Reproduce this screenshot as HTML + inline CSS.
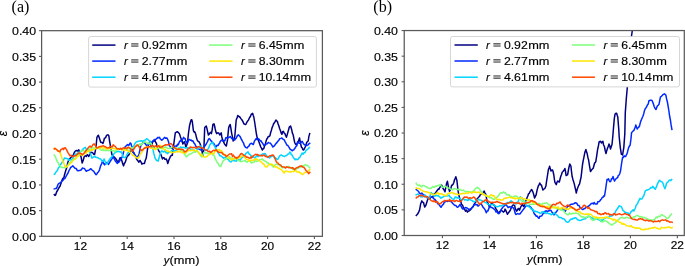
<!DOCTYPE html>
<html><head><meta charset="utf-8"><style>
html,body{margin:0;padding:0;background:#fff;width:685px;height:266px;overflow:hidden;}
svg{display:block;will-change:transform;}
text{font-family:"Liberation Sans",sans-serif;fill:#000;stroke:#000;stroke-width:0.15px;}
</style></head><body>
<svg width="685" height="266" viewBox="0 0 685 266">
<clipPath id="clipa"><rect x="41.61" y="30.68" width="280.79" height="205.65"/></clipPath>
<g clip-path="url(#clipa)" fill="none" stroke-width="1.5" stroke-linejoin="round" stroke-linecap="square">
<polyline stroke="#000080" points="54.3,194.6 54.9,195.4 55.5,195.3 56.6,192.0 57.8,190.0 58.9,187.8 60.0,186.3 61.1,183.1 62.3,179.5 63.0,178.2 63.8,178.0 64.5,175.0 65.3,172.0 66.0,169.8 66.8,167.5 67.5,163.8 68.3,161.0 69.2,159.1 70.0,158.5 70.9,157.6 71.8,156.5 72.7,155.9 73.6,154.3 74.3,152.5 75.1,151.3 75.8,150.7 76.6,150.5 77.7,151.0 78.8,149.8 79.6,152.8 80.3,154.6 81.1,157.0 82.2,163.0 83.3,160.0 84.1,157.0 84.8,156.1 85.6,155.8 86.3,156.5 87.1,154.7 87.8,154.8 88.6,156.5 89.3,155.6 90.1,154.0 90.8,152.2 91.6,152.4 92.3,152.5 93.1,153.2 93.8,154.5 94.6,154.3 95.3,150.8 96.1,146.0 96.9,137.5 97.7,135.9 98.4,135.3 99.5,138.4 100.6,142.0 101.4,142.5 102.1,142.4 102.9,143.5 103.7,141.2 104.4,138.3 105.5,137.9 106.6,135.3 107.4,134.9 108.1,134.8 108.9,136.0 109.4,140.0 110.4,145.9 111.2,150.4 111.9,154.6 112.7,155.4 113.5,157.2 114.3,157.1 115.3,158.2 116.3,159.5 117.2,161.0 118.2,162.5 119.2,160.0 120.2,157.6 121.2,159.1 122.1,161.5 122.8,164.0 123.6,165.9 124.3,163.5 125.1,162.5 126.0,160.1 127.0,156.6 128.0,155.6 129.0,154.6 129.8,153.1 130.7,150.8 131.5,149.3 132.3,150.0 133.0,152.5 133.8,152.7 134.9,155.2 136.0,157.2 136.8,159.5 137.7,160.5 138.3,161.4 138.9,162.2 140.0,160.5 141.1,162.2 141.9,164.1 142.8,163.4 143.7,163.6 144.5,163.4 145.3,160.3 146.2,158.3 146.8,154.2 147.5,149.3 148.4,144.8 149.2,143.3 150.1,141.4 150.7,143.0 151.3,147.0 152.1,143.9 152.8,141.0 153.9,141.2 155.0,140.5 155.8,142.5 156.5,143.6 157.5,148.1 158.3,149.6 159.1,151.5 159.9,152.3 160.8,154.3 161.7,156.8 162.5,158.9 163.3,157.7 164.2,157.7 164.8,159.2 165.4,159.4 166.3,159.0 167.1,161.1 167.8,163.6 168.6,160.8 169.3,159.0 170.1,157.2 170.8,156.0 171.6,155.2 172.3,155.3 173.1,149.4 173.8,144.0 174.6,138.0 175.3,132.8 176.4,132.1 177.6,131.8 178.5,132.8 179.4,133.6 180.4,136.8 181.4,139.5 182.2,141.2 182.9,144.0 183.7,142.4 184.4,141.8 185.2,144.2 185.9,147.0 186.7,145.2 187.4,143.3 188.5,133.0 189.6,125.3 190.3,122.7 191.1,120.0 191.7,119.7 192.3,121.5 193.4,130.6 194.2,132.2 194.9,132.0 195.7,134.2 196.4,137.3 197.2,140.1 197.9,141.1 199.1,141.9 200.2,144.0 200.9,146.5 201.7,150.0 202.3,152.9 202.9,156.0 203.9,148.5 204.7,127.6 205.4,126.7 206.2,126.0 206.8,127.9 207.4,130.6 208.4,135.0 209.2,134.3 209.9,132.8 210.7,132.3 211.4,133.6 212.2,129.6 212.9,124.5 214.0,123.8 214.6,126.0 215.2,129.0 215.9,131.9 216.7,133.6 217.4,133.0 218.2,132.8 218.9,133.2 219.7,135.0 220.4,134.1 221.2,132.8 221.8,136.9 222.4,138.8 223.4,141.4 224.5,144.0 225.4,145.1 226.3,146.0 226.9,142.8 227.5,140.0 228.1,133.4 228.7,127.6 229.4,125.7 230.2,124.5 230.9,128.4 231.7,133.6 232.4,136.6 233.2,141.1 233.9,139.2 234.7,137.3 235.4,129.5 236.2,120.0 237.0,118.0 237.8,115.5 238.8,116.5 239.8,117.0 240.9,118.6 242.0,120.0 242.9,121.5 243.8,123.8 244.8,124.2 245.8,124.5 246.6,122.8 247.3,121.5 248.4,120.1 249.5,117.8 250.4,116.5 251.4,114.0 252.0,114.3 252.6,113.3 253.2,115.3 253.8,117.0 254.8,123.0 255.9,130.6 256.5,134.5 257.1,137.3 257.9,138.8 258.6,141.0 259.7,144.0 260.8,147.0 261.6,148.4 262.3,150.0 263.1,148.8 263.8,148.5 264.6,145.7 265.3,144.0 266.1,141.1 266.8,139.0 267.6,138.0 268.3,136.4 269.1,136.6 269.9,135.7 270.6,132.8 271.4,130.3 272.1,127.6 272.9,125.7 273.6,123.8 274.8,122.2 275.9,120.0 276.6,120.7 277.4,121.5 278.1,124.0 278.9,126.0 279.6,128.5 280.4,130.6 281.1,132.8 281.9,134.3 282.6,131.7 283.4,131.3 284.1,133.0 284.9,133.6 285.6,135.5 286.4,137.3 287.1,135.0 287.9,132.1 288.6,129.7 289.4,126.8 290.0,126.5 290.6,126.0 291.7,129.8 292.4,133.1 293.2,135.0 293.9,138.6 294.7,142.5 295.4,143.9 296.2,144.8 297.3,143.2 298.4,141.8 299.5,138.0 300.1,141.0 300.7,144.0 301.4,147.1 302.2,147.8 302.9,149.8 303.7,150.0 304.4,148.6 305.2,147.0 305.9,145.2 306.7,142.5 307.4,141.6 308.2,141.0 308.9,136.4 309.7,133.6"/>
<polyline stroke="#0028ff" points="54.3,188.9 55.3,188.6 56.3,188.6 57.2,186.6 58.2,184.0 59.1,183.4 59.9,182.9 60.8,182.6 61.9,181.0 63.0,180.3 64.0,178.9 65.0,178.3 66.0,176.5 67.0,174.7 68.0,173.0 69.0,170.5 69.8,169.1 70.6,167.5 71.7,166.8 72.8,165.7 73.9,167.1 75.0,168.3 76.2,168.6 77.3,170.5 78.3,170.8 79.3,170.6 80.3,170.2 81.3,169.8 82.3,168.1 83.3,168.3 84.3,168.4 85.3,169.9 86.3,171.3 87.4,170.5 88.6,170.2 89.4,169.9 90.1,169.2 90.9,168.7 92.0,170.0 93.1,170.8 94.1,171.8 95.1,173.6 96.1,174.7 96.9,174.0 97.6,172.6 98.4,172.0 99.5,169.8 100.6,165.9 101.6,163.7 102.6,161.0 103.6,163.5 104.6,164.9 105.5,163.4 106.5,162.5 107.5,163.1 108.5,164.4 109.5,162.6 110.4,161.1 111.4,159.5 112.3,158.4 113.3,156.6 114.3,158.9 115.3,161.0 116.2,162.0 117.2,163.4 118.2,162.2 119.2,162.0 120.2,160.0 121.2,158.6 122.2,156.8 123.1,153.7 124.1,149.8 125.1,146.8 126.0,146.0 126.8,145.4 127.5,144.5 128.2,145.1 129.0,145.3 130.1,143.0 130.9,143.4 131.6,146.0 132.2,147.2 132.8,149.8 133.5,152.0 134.6,154.3 135.2,155.3 135.8,156.2 136.9,156.9 138.0,156.2 138.6,155.5 139.2,153.5 139.9,149.8 140.7,146.0 141.4,144.5 142.5,143.4 143.2,141.8 144.0,142.3 145.0,143.4 146.0,144.7 147.0,146.0 148.0,144.6 149.0,144.0 150.0,143.5 151.0,142.5 152.0,142.0 153.0,141.5 154.0,139.8 155.0,139.5 156.0,139.2 157.0,138.4 158.0,137.3 158.8,137.8 159.5,137.3 160.3,139.0 161.0,139.5 161.8,140.3 162.9,139.2 164.0,138.0 164.8,137.4 165.5,138.3 166.3,138.0 167.0,138.0 167.8,139.7 168.6,142.0 169.3,145.5 170.1,146.4 170.8,147.8 171.6,147.5 172.3,148.5 173.2,147.3 174.0,147.0 175.0,146.2 176.0,146.0 176.8,146.2 177.5,144.2 178.3,144.8 179.4,141.8 180.6,140.3 181.5,141.5 182.6,139.5 183.6,137.3 184.3,138.6 185.1,138.5 185.8,141.0 186.6,143.0 187.3,141.5 188.1,141.8 188.8,139.4 189.6,139.5 190.4,140.2 191.1,140.1 191.9,141.0 192.7,140.8 193.4,141.8 194.2,143.4 194.9,144.0 196.0,146.5 197.1,147.8 197.9,148.4 198.6,148.9 199.4,149.3 200.6,149.9 201.7,150.0 202.4,149.7 203.2,147.8 204.2,146.8 205.2,145.5 206.2,144.0 207.3,142.0 208.4,139.5 209.2,138.5 209.9,139.0 210.7,140.6 211.4,141.0 212.6,142.6 213.7,143.3 214.8,145.4 215.9,147.0 217.1,145.3 218.2,145.5 219.0,143.7 219.7,142.9 220.5,141.0 221.6,140.1 222.7,141.0 223.4,141.0 224.2,141.1 225.0,140.4 225.7,138.0 226.5,137.5 227.5,138.3 228.5,137.5 229.3,137.3 230.2,136.5 230.9,137.4 231.7,138.5 232.4,138.7 233.2,138.5 233.9,139.6 234.7,140.0 235.5,138.9 236.2,138.2 237.0,136.5 237.7,135.3 238.3,134.8 239.4,135.8 240.5,137.3 241.3,139.3 242.0,140.3 242.8,141.8 243.6,143.2 244.3,145.5 245.4,147.1 246.5,147.8 247.3,148.0 248.0,146.6 248.8,146.3 249.9,144.1 251.1,143.3 252.2,143.8 253.3,144.5 253.9,142.7 254.5,141.1 255.4,139.7 256.3,138.5 257.1,139.6 257.8,139.2 258.6,138.8 259.3,139.5 260.1,141.0 260.8,140.5 261.6,142.0 262.7,143.4 263.8,145.5 264.6,145.3 265.3,145.1 266.1,144.0 267.2,143.7 268.3,142.5 269.1,142.9 269.8,143.1 270.6,143.3 271.8,145.2 272.9,147.0 274.0,146.2 275.1,144.8 276.1,143.4 277.1,142.4 278.1,141.0 278.9,140.2 279.6,138.8 280.8,138.4 281.9,138.0 283.0,139.2 284.1,139.6 284.9,141.3 285.6,142.5 286.8,145.0 287.9,145.5 288.7,146.9 289.4,147.8 290.2,149.3 291.3,149.9 292.4,150.8 293.2,150.0 293.9,149.7 294.7,148.5 295.8,146.8 296.9,145.5 297.7,141.5 298.4,142.6 299.2,143.3 300.3,143.5 301.4,141.8 302.2,141.3 302.9,142.7 303.7,144.0 304.8,144.9 305.9,145.5 306.7,145.5 307.4,145.2 308.2,144.8 308.9,143.8 309.7,143.3"/>
<polyline stroke="#00d4ff" points="54.3,174.3 54.9,174.0 55.5,172.5 56.5,171.7 57.6,169.9 58.5,167.8 59.3,167.0 60.1,164.6 61.0,164.2 61.9,162.7 62.7,161.4 63.6,160.1 64.4,158.0 65.6,158.2 66.7,158.6 67.8,158.7 68.9,160.3 70.1,159.8 71.2,159.7 72.3,159.3 73.4,157.5 74.6,155.1 75.7,154.1 76.6,154.1 77.6,153.2 78.5,152.4 79.4,152.3 80.4,152.1 81.3,151.3 82.4,149.6 83.6,148.5 84.4,147.8 85.3,147.3 86.1,149.1 86.9,149.0 88.1,150.0 89.2,151.3 90.1,153.4 91.0,155.1 91.9,158.1 92.9,157.2 93.8,157.1 94.8,156.1 95.8,157.2 96.7,157.4 97.7,157.6 98.7,158.4 99.6,158.8 100.6,159.0 101.6,160.4 102.6,161.5 103.3,160.8 104.1,159.0 104.8,160.7 105.5,162.5 106.2,163.7 107.0,163.9 107.8,162.6 108.6,160.5 109.4,160.0 110.4,158.1 111.4,157.3 112.4,156.1 113.4,154.7 114.3,153.2 115.3,152.7 116.3,151.8 117.2,151.8 118.2,151.2 119.2,151.6 120.2,152.0 121.2,151.7 122.2,154.0 123.1,157.1 124.1,157.5 125.1,157.6 126.1,156.5 127.0,154.5 128.0,152.7 129.0,152.6 129.9,150.5 130.9,149.8 131.9,148.5 132.9,147.3 133.9,145.9 134.0,145.3 134.9,143.6 135.8,142.3 136.6,141.9 137.3,141.5 138.2,141.4 139.2,141.1 140.1,140.9 141.0,140.8 141.9,140.9 142.9,141.5 143.9,140.7 144.8,140.3 145.7,139.9 146.6,138.7 147.5,139.1 148.3,140.0 149.2,140.8 150.1,141.4 150.9,143.0 151.8,145.1 152.6,147.5 153.7,153.2 154.3,154.9 154.9,157.7 155.7,159.2 156.5,160.5 157.3,160.6 158.2,161.1 158.8,158.7 159.4,156.5 160.5,152.6 161.6,150.9 162.4,151.1 163.3,152.0 164.2,151.5 165.0,150.9 165.8,152.6 166.5,151.9 167.3,153.7 168.1,153.1 168.9,152.0 169.9,151.8 171.0,151.2 172.1,150.5 173.1,150.8 174.0,151.4 174.9,150.5 175.9,150.7 176.8,150.0 177.8,149.1 178.7,148.1 179.7,148.3 180.6,147.0 181.7,147.6 182.8,147.3 184.0,147.5 185.1,147.8 186.1,148.2 187.0,147.5 188.0,148.0 189.0,147.9 189.9,148.6 190.9,149.5 191.9,149.3 193.0,150.1 194.2,150.1 195.3,151.1 196.4,150.8 197.3,149.5 198.2,148.1 199.1,148.3 200.0,145.9 200.9,146.3 201.7,147.5 202.6,147.9 203.5,149.0 204.4,149.7 205.3,150.5 206.2,150.2 207.0,150.0 207.9,149.2 208.8,147.7 209.6,145.4 210.5,143.9 211.5,143.0 212.5,142.0 213.5,144.6 214.5,145.9 215.4,148.0 216.2,149.2 217.1,151.2 218.0,152.8 218.8,153.8 219.7,155.8 220.6,155.6 221.5,156.4 222.4,157.1 223.3,158.1 224.1,157.3 225.0,157.8 225.9,157.3 226.7,158.6 227.6,159.1 228.5,159.6 229.4,161.2 230.3,161.7 231.2,161.9 232.0,160.7 232.9,160.4 233.8,160.7 234.6,160.4 235.5,161.1 236.4,161.2 237.3,159.8 238.2,159.7 239.1,159.5 239.9,160.5 240.8,159.1 241.7,157.8 242.5,157.4 243.4,156.4 244.3,155.3 245.2,154.5 246.1,153.2 247.1,152.7 248.0,151.8 249.0,153.9 250.0,154.5 250.9,155.6 251.7,156.5 252.6,157.1 253.5,156.7 254.4,157.8 255.3,157.8 256.0,156.5 257.0,155.6 258.0,156.6 259.0,155.8 260.0,155.3 261.0,155.3 262.0,154.3 263.0,153.8 264.0,153.9 265.0,153.5 265.8,154.5 266.5,155.8 267.3,156.5 268.4,157.2 269.5,158.0 270.5,157.0 271.5,156.4 272.5,155.8 273.3,156.2 274.0,156.8 274.8,158.0 275.6,157.9 276.3,158.3 277.1,159.5 278.2,158.9 279.3,156.5 280.1,155.6 280.8,155.0 281.6,155.0 282.6,156.0 283.6,156.1 284.6,156.5 285.6,155.7 286.6,155.6 287.6,154.3 288.7,154.1 289.8,152.0 290.6,152.6 291.3,154.7 292.1,155.0 293.2,157.2 294.3,158.8 295.1,159.6 295.8,159.0 296.6,159.5 297.8,159.6 298.9,158.0 300.0,157.1 301.1,155.0 302.1,153.0 303.1,154.2 304.1,152.8 305.1,152.5 306.1,150.1 307.1,149.8 308.2,148.8 309.4,147.5"/>
<polyline stroke="#7dff7a" points="54.2,155.0 54.9,156.1 55.5,156.5 55.9,158.0 56.8,160.7 57.6,162.0 58.5,163.3 59.3,165.4 60.1,165.8 61.0,167.0 62.1,167.5 63.3,167.6 64.4,167.9 65.5,166.5 66.7,166.2 67.8,165.4 68.9,163.4 70.0,162.5 71.2,161.0 72.3,160.3 73.4,159.7 74.5,159.2 75.6,158.3 76.7,156.5 77.8,154.9 78.8,153.6 79.9,152.5 81.0,151.0 82.0,150.5 83.0,150.8 84.0,150.8 85.1,151.4 86.1,150.4 87.1,150.3 88.1,150.4 89.1,149.0 90.1,149.6 91.1,148.9 92.1,148.1 93.1,148.0 94.1,147.9 95.1,148.2 96.1,147.5 97.1,148.1 98.1,148.2 99.1,147.3 100.1,149.1 101.1,150.1 102.1,150.3 103.1,149.7 104.1,150.5 105.2,150.0 106.2,150.8 107.2,150.4 108.2,150.3 109.2,150.5 110.2,150.8 111.2,150.4 112.2,150.8 113.2,150.5 114.2,151.0 115.2,151.7 116.2,150.1 117.2,149.9 118.2,148.7 119.2,148.5 120.2,148.8 121.2,148.5 122.1,149.4 123.1,149.5 124.1,149.4 125.0,149.1 126.0,149.5 127.0,150.2 128.1,148.5 129.1,148.3 130.1,148.8 131.2,147.8 132.2,148.0 133.2,147.6 134.2,147.5 135.2,146.5 136.2,146.2 137.2,145.5 138.2,145.0 139.1,144.8 139.9,143.7 140.8,145.3 141.9,143.6 143.0,143.0 143.8,142.6 144.5,141.5 145.3,141.9 146.4,142.5 147.5,143.6 148.3,143.5 149.0,143.9 149.8,143.0 150.9,143.5 152.0,145.3 152.8,145.8 153.5,146.9 154.3,147.5 155.4,148.4 156.5,148.7 157.3,147.6 158.0,148.8 158.8,147.5 159.9,147.7 161.1,148.7 162.2,148.7 163.3,147.5 164.4,147.2 165.6,147.0 166.7,147.6 167.8,148.6 168.9,148.5 170.0,148.5 171.0,147.7 172.0,146.7 172.8,146.8 173.5,147.5 174.3,148.4 175.4,147.5 176.5,148.0 177.3,149.5 178.0,148.3 178.8,149.5 179.9,148.4 181.0,150.7 182.1,150.1 182.9,152.0 183.6,152.5 184.4,154.0 185.5,155.7 186.1,156.7 186.7,156.9 187.5,155.7 188.3,155.2 189.2,154.3 190.0,154.0 190.8,153.9 191.5,153.5 192.3,152.9 193.4,152.1 194.5,151.8 195.3,152.3 196.0,151.4 196.8,150.7 197.7,151.9 198.5,152.9 199.3,153.5 200.2,155.2 201.1,156.1 202.0,156.9 202.9,154.6 203.9,152.5 204.9,152.7 205.9,153.3 206.9,152.8 207.9,153.2 208.9,153.2 209.9,153.3 210.8,152.9 211.8,152.5 212.5,154.7 213.2,154.5 214.1,155.6 215.1,158.4 216.1,160.4 217.1,162.4 218.0,163.1 218.8,165.0 219.7,166.3 220.7,166.6 221.7,164.3 222.7,161.6 223.7,160.4 224.6,159.6 225.4,159.4 226.3,158.4 227.2,158.0 228.0,158.0 228.9,157.1 229.9,156.8 230.9,158.6 231.9,158.1 232.9,159.1 233.8,158.3 234.6,158.9 235.5,158.4 236.4,159.3 237.3,159.4 238.2,160.4 239.1,160.4 239.9,161.2 240.8,161.7 241.7,161.5 242.5,161.2 243.4,161.1 244.3,160.8 245.2,160.4 246.1,161.7 247.0,162.2 247.8,161.4 248.7,161.1 249.6,161.1 250.4,161.6 251.3,163.0 252.2,162.5 253.0,162.4 253.9,162.4 254.9,160.7 256.0,161.0 257.0,161.5 258.0,160.8 259.0,160.3 260.0,159.7 261.0,159.5 262.0,158.8 263.0,159.7 264.0,160.8 265.0,161.0 266.0,161.6 267.0,162.7 268.0,162.6 269.0,164.1 270.0,163.9 271.0,164.8 271.8,165.4 272.5,165.9 273.3,167.1 274.3,166.0 275.3,164.7 276.3,164.1 277.1,164.3 277.8,164.7 278.6,164.8 279.6,165.8 280.6,165.8 281.6,167.1 282.6,167.9 283.6,167.4 284.6,167.8 285.6,167.5 286.6,167.1 287.6,167.1 288.6,166.3 289.6,167.7 290.6,167.8 291.6,167.4 292.6,169.4 293.6,169.3 294.6,169.1 295.6,169.6 296.6,168.6 297.6,168.4 298.6,168.0 299.6,167.1 300.6,167.3 301.6,166.1 302.6,165.6 303.6,166.1 304.6,165.0 305.6,164.8 306.6,165.4 307.6,165.5 308.6,166.3 309.2,167.3 309.8,167.8"/>
<polyline stroke="#ffe600" points="54.2,148.3 55.4,149.2 56.5,149.6 57.6,150.6 58.8,151.3 59.6,152.1 60.5,153.5 61.6,156.9 62.7,160.9 63.6,162.7 64.4,164.8 65.2,166.3 66.1,167.0 66.9,166.9 67.8,165.9 68.9,164.5 70.0,163.7 71.2,162.7 72.3,161.4 73.4,159.6 74.5,159.2 75.5,158.8 76.4,157.5 77.4,156.3 78.3,156.0 79.3,155.6 80.2,154.7 81.3,154.6 82.5,155.5 83.6,154.1 84.5,154.1 85.3,152.0 86.2,153.2 87.1,151.0 88.2,151.6 89.3,151.4 90.5,149.7 91.6,150.3 92.7,149.8 93.9,149.2 95.0,149.0 96.0,148.2 97.0,148.2 98.1,148.5 99.1,147.3 100.2,147.5 101.3,147.7 102.5,147.9 103.6,148.0 104.5,147.5 105.4,148.3 106.4,149.1 107.3,149.0 108.2,148.8 109.3,148.4 110.5,148.8 111.6,148.6 112.7,148.0 113.8,148.4 115.0,148.8 116.1,149.4 117.2,148.8 118.2,149.1 119.2,149.2 120.2,148.7 121.2,149.0 122.2,149.7 123.2,149.5 124.2,150.7 125.2,149.7 126.2,150.1 127.2,150.2 128.2,151.2 129.2,151.0 130.3,152.9 131.4,153.6 132.6,155.2 133.7,155.6 134.7,156.2 135.7,157.1 136.7,157.8 137.5,157.9 138.2,158.3 139.0,157.0 140.1,154.5 141.2,152.6 142.2,151.7 143.2,149.6 144.2,148.0 145.3,147.2 146.4,147.5 147.6,146.3 148.7,147.0 149.8,147.6 150.9,148.1 152.1,148.3 153.2,148.7 154.3,148.6 155.4,149.8 156.6,147.6 157.7,146.4 158.8,145.7 159.9,145.3 160.8,145.7 161.6,147.5 162.4,148.4 163.3,148.7 164.4,149.3 165.6,149.8 166.7,151.4 167.8,150.9 168.9,151.4 170.1,152.0 171.2,152.6 172.3,152.6 173.4,152.5 174.6,152.3 175.7,152.1 176.8,151.4 178.0,152.0 179.1,151.5 180.2,151.0 181.3,152.6 182.5,152.4 183.6,153.0 184.7,151.9 185.8,153.3 187.0,151.4 188.1,150.8 189.2,150.3 190.3,150.8 191.5,150.3 192.6,150.0 193.7,150.5 194.8,150.6 196.0,150.8 197.1,150.8 198.1,151.8 199.0,152.9 200.0,154.5 200.9,154.2 201.7,155.3 202.6,155.8 203.5,157.0 204.4,157.0 205.3,157.1 206.2,156.7 207.0,156.6 207.9,155.1 208.8,155.1 209.6,153.9 210.5,153.8 211.4,153.3 212.3,153.9 213.2,153.2 214.1,153.7 214.9,151.1 215.8,151.2 216.7,150.7 217.5,149.8 218.4,149.9 219.3,149.5 220.1,150.8 221.0,150.5 222.0,151.4 223.0,153.2 224.0,154.6 225.0,154.5 225.9,155.0 226.7,156.8 227.6,157.1 228.5,157.2 229.4,158.4 230.3,159.1 231.2,159.9 232.0,158.6 232.9,159.7 233.8,159.2 234.6,157.7 235.5,157.8 236.4,157.6 237.3,158.5 238.2,158.4 239.1,157.0 239.9,157.8 240.8,157.1 241.7,156.4 242.5,155.5 243.4,155.1 244.4,156.8 245.4,158.4 246.4,159.2 247.4,159.7 248.3,159.6 249.1,161.1 250.0,160.4 250.9,160.3 251.7,160.3 252.6,160.4 253.5,160.2 254.4,159.2 255.3,159.7 256.0,158.8 257.0,159.2 258.0,159.8 259.0,160.3 260.0,161.3 261.0,161.9 262.0,162.6 262.8,163.7 263.5,163.7 264.3,164.8 265.4,166.8 266.5,167.1 267.3,166.7 268.0,165.1 268.8,164.8 269.9,164.5 271.0,164.1 272.0,164.3 273.0,165.3 274.0,165.6 275.0,167.0 276.1,166.8 277.1,167.1 278.1,168.2 279.1,168.3 280.1,169.3 281.1,169.2 282.1,170.4 283.1,171.6 284.1,173.1 285.1,171.3 286.1,170.8 287.1,171.4 288.1,171.7 289.1,171.6 290.1,171.9 291.1,171.7 292.1,171.6 293.1,171.5 294.1,171.4 295.1,170.8 296.1,170.6 297.1,172.0 298.1,172.3 299.1,171.7 300.1,172.9 301.1,173.1 301.9,174.2 302.6,174.6 303.6,173.7 304.6,172.6 305.6,172.3 306.6,172.3 307.6,171.3 308.6,170.8 309.2,170.2 309.8,169.3"/>
<polyline stroke="#ff4700" points="54.2,149.0 55.0,148.2 55.9,149.0 56.8,149.6 57.6,150.7 58.8,151.2 59.9,151.8 61.0,149.4 62.1,149.0 62.9,148.3 63.6,149.5 64.4,147.9 65.2,147.7 66.1,149.0 66.9,150.4 67.8,152.4 68.9,154.1 70.0,155.8 71.2,155.2 72.3,156.9 73.4,156.3 74.5,155.8 75.7,155.7 76.8,154.7 77.7,154.0 78.7,152.9 79.6,153.0 80.5,153.6 81.5,153.7 82.4,154.7 83.6,153.6 84.7,152.4 85.8,151.0 86.9,149.6 88.1,148.1 89.2,146.8 90.1,146.1 91.1,147.1 92.0,146.2 93.1,144.5 94.2,143.8 94.8,144.8 95.4,145.6 96.2,147.1 96.9,148.0 97.9,147.6 98.9,146.9 99.9,146.5 100.8,146.6 101.8,146.3 102.7,146.1 103.6,145.8 104.5,146.5 105.5,146.7 106.5,147.6 107.4,148.0 108.4,147.8 109.3,147.8 110.2,146.5 111.2,146.5 112.2,146.9 113.2,144.8 114.2,145.8 115.2,146.3 116.2,147.8 117.2,148.8 118.3,148.7 119.5,149.4 120.6,148.2 121.7,149.5 122.7,148.3 123.7,147.7 124.7,148.0 125.3,148.1 126.0,148.3 126.8,148.6 127.5,147.5 128.4,147.1 129.4,147.9 130.2,148.3 130.9,149.4 132.0,151.3 133.1,150.9 133.7,149.0 134.3,148.3 135.4,146.4 136.2,146.0 136.9,144.9 138.0,145.3 138.6,146.3 139.2,146.8 140.3,149.0 141.4,150.5 142.5,149.8 143.2,149.5 144.0,148.6 145.0,147.8 146.0,147.9 146.9,147.4 147.8,146.9 148.7,147.0 149.8,146.4 150.9,146.4 151.8,145.7 152.6,145.3 153.4,146.4 154.3,147.0 155.4,145.8 156.5,146.4 157.3,146.9 158.0,146.1 158.8,145.8 159.9,147.4 161.1,147.0 162.2,147.1 163.3,145.8 164.4,145.4 165.6,144.7 166.7,144.9 167.8,144.7 168.9,144.7 170.1,143.6 171.2,143.7 172.3,144.7 173.0,146.6 173.7,147.3 174.6,147.9 175.4,148.4 176.5,149.1 177.6,149.5 178.4,149.0 179.3,149.0 180.2,149.3 181.0,149.5 181.8,149.1 182.7,149.5 183.6,150.2 184.4,151.8 185.2,151.7 186.1,151.2 186.9,150.6 187.8,149.0 188.7,148.6 189.5,147.8 190.3,146.9 191.2,147.3 192.1,147.5 192.9,147.8 193.7,147.3 194.5,147.3 195.3,147.8 196.2,148.4 197.1,147.2 197.9,146.7 199.1,146.7 200.2,147.3 201.1,147.7 202.0,147.8 202.6,147.9 203.5,148.4 204.4,149.3 205.3,149.9 206.2,150.1 207.0,150.3 207.9,151.2 208.8,151.5 209.6,151.3 210.5,152.5 211.4,152.0 212.3,151.2 213.2,150.5 214.1,150.3 214.9,150.6 215.8,149.9 216.7,150.0 217.5,151.8 218.4,151.8 219.3,152.5 220.1,152.4 221.0,152.5 221.9,152.7 222.8,154.0 223.7,154.5 224.6,154.9 225.4,155.4 226.3,156.4 227.2,155.9 228.0,155.3 228.9,154.5 229.8,153.9 230.7,154.0 231.6,153.8 232.5,156.5 233.3,155.1 234.2,156.4 235.1,157.4 235.9,157.6 236.8,158.4 237.7,157.2 238.6,156.9 239.5,155.8 240.4,154.4 241.2,153.6 242.1,153.8 243.0,154.5 243.8,155.3 244.7,155.8 245.6,156.1 246.5,157.3 247.4,157.1 248.3,157.4 249.1,158.1 250.0,158.4 250.9,157.0 251.7,157.9 252.6,156.4 253.5,155.6 254.4,155.1 255.3,154.5 256.0,154.3 256.8,154.8 257.5,154.5 258.3,155.0 259.4,155.6 260.5,155.8 261.5,155.6 262.5,155.9 263.5,155.0 264.3,155.0 265.0,156.0 265.8,156.5 266.9,156.9 268.0,157.3 268.8,156.5 269.5,155.8 270.3,155.8 271.4,155.6 272.5,155.0 273.3,155.2 274.0,156.4 274.8,158.0 275.6,159.9 276.3,161.8 277.1,162.6 277.8,162.9 278.6,164.1 279.6,164.6 280.6,165.0 281.6,166.3 282.6,166.9 283.6,167.0 284.6,167.1 285.6,168.0 286.6,166.8 287.6,167.1 288.6,167.7 289.6,167.4 290.6,167.8 291.6,168.0 292.6,167.6 293.6,168.6 294.6,169.7 295.6,168.4 296.6,167.8 297.6,167.6 298.6,166.9 299.6,166.3 300.6,166.0 301.6,166.1 302.6,167.1 303.8,167.2 304.9,168.6 306.0,170.4 307.1,171.6 307.9,172.3 308.6,173.8 309.2,173.0 309.8,172.3"/>
</g>
<rect x="41.61" y="30.68" width="280.79" height="205.65" fill="none" stroke="#5a5a5a" stroke-width="1.25"/>
<line x1="39.01" y1="236.33" x2="41.61" y2="236.33" stroke="#5a5a5a" stroke-width="1.1"/>
<text x="36.10" y="240.73" font-size="10.5" text-anchor="end" textLength="24.07" lengthAdjust="spacingAndGlyphs">0.00</text>
<line x1="39.01" y1="210.62" x2="41.61" y2="210.62" stroke="#5a5a5a" stroke-width="1.1"/>
<text x="36.10" y="215.02" font-size="10.5" text-anchor="end" textLength="24.07" lengthAdjust="spacingAndGlyphs">0.05</text>
<line x1="39.01" y1="184.92" x2="41.61" y2="184.92" stroke="#5a5a5a" stroke-width="1.1"/>
<text x="36.10" y="189.32" font-size="10.5" text-anchor="end" textLength="24.07" lengthAdjust="spacingAndGlyphs">0.10</text>
<line x1="39.01" y1="159.21" x2="41.61" y2="159.21" stroke="#5a5a5a" stroke-width="1.1"/>
<text x="36.10" y="163.61" font-size="10.5" text-anchor="end" textLength="24.07" lengthAdjust="spacingAndGlyphs">0.15</text>
<line x1="39.01" y1="133.50" x2="41.61" y2="133.50" stroke="#5a5a5a" stroke-width="1.1"/>
<text x="36.10" y="137.91" font-size="10.5" text-anchor="end" textLength="24.07" lengthAdjust="spacingAndGlyphs">0.20</text>
<line x1="39.01" y1="107.80" x2="41.61" y2="107.80" stroke="#5a5a5a" stroke-width="1.1"/>
<text x="36.10" y="112.20" font-size="10.5" text-anchor="end" textLength="24.07" lengthAdjust="spacingAndGlyphs">0.25</text>
<line x1="39.01" y1="82.09" x2="41.61" y2="82.09" stroke="#5a5a5a" stroke-width="1.1"/>
<text x="36.10" y="86.49" font-size="10.5" text-anchor="end" textLength="24.07" lengthAdjust="spacingAndGlyphs">0.30</text>
<line x1="39.01" y1="56.39" x2="41.61" y2="56.39" stroke="#5a5a5a" stroke-width="1.1"/>
<text x="36.10" y="60.79" font-size="10.5" text-anchor="end" textLength="24.07" lengthAdjust="spacingAndGlyphs">0.35</text>
<line x1="39.01" y1="30.68" x2="41.61" y2="30.68" stroke="#5a5a5a" stroke-width="1.1"/>
<text x="36.10" y="35.08" font-size="10.5" text-anchor="end" textLength="24.07" lengthAdjust="spacingAndGlyphs">0.40</text>
<line x1="80.40" y1="236.33" x2="80.40" y2="239.03" stroke="#5a5a5a" stroke-width="1.1"/>
<text x="80.40" y="249.70" font-size="10.5" text-anchor="middle" textLength="13.26" lengthAdjust="spacingAndGlyphs">12</text>
<line x1="127.20" y1="236.33" x2="127.20" y2="239.03" stroke="#5a5a5a" stroke-width="1.1"/>
<text x="127.20" y="249.70" font-size="10.5" text-anchor="middle" textLength="13.26" lengthAdjust="spacingAndGlyphs">14</text>
<line x1="174.00" y1="236.33" x2="174.00" y2="239.03" stroke="#5a5a5a" stroke-width="1.1"/>
<text x="174.00" y="249.70" font-size="10.5" text-anchor="middle" textLength="13.26" lengthAdjust="spacingAndGlyphs">16</text>
<line x1="220.80" y1="236.33" x2="220.80" y2="239.03" stroke="#5a5a5a" stroke-width="1.1"/>
<text x="220.80" y="249.70" font-size="10.5" text-anchor="middle" textLength="13.26" lengthAdjust="spacingAndGlyphs">18</text>
<line x1="267.60" y1="236.33" x2="267.60" y2="239.03" stroke="#5a5a5a" stroke-width="1.1"/>
<text x="267.60" y="249.70" font-size="10.5" text-anchor="middle" textLength="13.26" lengthAdjust="spacingAndGlyphs">20</text>
<line x1="314.40" y1="236.33" x2="314.40" y2="239.03" stroke="#5a5a5a" stroke-width="1.1"/>
<text x="314.40" y="249.70" font-size="10.5" text-anchor="middle" textLength="13.26" lengthAdjust="spacingAndGlyphs">22</text>
<text x="163.80" y="263.60" font-size="11.2" font-style="italic">y</text>
<text x="169.60" y="263.60" font-size="11.2" textLength="29.9" lengthAdjust="spacingAndGlyphs">(mm)</text>
<text transform="translate(6.70,133.50) rotate(-90)" font-size="12" font-style="italic" text-anchor="middle">&#949;</text>
<text x="11.60" y="11.70" font-size="16" style="font-family:'Liberation Serif',serif;stroke:none">(a)</text>
<rect x="88.6" y="36.5" width="227.80" height="50.60" rx="2" ry="2" fill="#fff" stroke="#cccccc" stroke-opacity="0.8" stroke-width="1"/>
<line x1="92.2" y1="45.1" x2="115.5" y2="45.1" stroke="#000080" stroke-width="1.5"/>
<text x="123.90" y="48.90" font-size="11.5" font-style="italic">r</text>
<path d="M131.20 45.00H138.40" stroke="#a8a8a8" stroke-width="1.3" fill="none"/>
<path d="M131.20 43.80H138.40M131.20 46.20H138.40" stroke="#444" stroke-width="1.0" fill="none"/>
<text x="141.70" y="48.90" font-size="10.9" textLength="23.82" lengthAdjust="spacingAndGlyphs">0.92</text>
<text x="166.02" y="48.90" font-size="11.4" textLength="21.3" lengthAdjust="spacingAndGlyphs">mm</text>
<line x1="92.2" y1="61.1" x2="115.5" y2="61.1" stroke="#0028ff" stroke-width="1.5"/>
<text x="123.90" y="64.90" font-size="11.5" font-style="italic">r</text>
<path d="M131.20 61.00H138.40" stroke="#a8a8a8" stroke-width="1.3" fill="none"/>
<path d="M131.20 59.80H138.40M131.20 62.20H138.40" stroke="#444" stroke-width="1.0" fill="none"/>
<text x="141.70" y="64.90" font-size="10.9" textLength="23.82" lengthAdjust="spacingAndGlyphs">2.77</text>
<text x="166.02" y="64.90" font-size="11.4" textLength="21.3" lengthAdjust="spacingAndGlyphs">mm</text>
<line x1="92.2" y1="77.2" x2="115.5" y2="77.2" stroke="#00d4ff" stroke-width="1.5"/>
<text x="123.90" y="81.00" font-size="11.5" font-style="italic">r</text>
<path d="M131.20 77.10H138.40" stroke="#a8a8a8" stroke-width="1.3" fill="none"/>
<path d="M131.20 75.90H138.40M131.20 78.30H138.40" stroke="#444" stroke-width="1.0" fill="none"/>
<text x="141.70" y="81.00" font-size="10.9" textLength="23.82" lengthAdjust="spacingAndGlyphs">4.61</text>
<text x="166.02" y="81.00" font-size="11.4" textLength="21.3" lengthAdjust="spacingAndGlyphs">mm</text>
<line x1="209.2" y1="45.1" x2="232.5" y2="45.1" stroke="#7dff7a" stroke-width="1.5"/>
<text x="241.00" y="48.90" font-size="11.5" font-style="italic">r</text>
<path d="M248.30 45.00H255.50" stroke="#a8a8a8" stroke-width="1.3" fill="none"/>
<path d="M248.30 43.80H255.50M248.30 46.20H255.50" stroke="#444" stroke-width="1.0" fill="none"/>
<text x="258.80" y="48.90" font-size="10.9" textLength="23.82" lengthAdjust="spacingAndGlyphs">6.45</text>
<text x="283.12" y="48.90" font-size="11.4" textLength="21.3" lengthAdjust="spacingAndGlyphs">mm</text>
<line x1="209.2" y1="61.1" x2="232.5" y2="61.1" stroke="#ffe600" stroke-width="1.5"/>
<text x="241.00" y="64.90" font-size="11.5" font-style="italic">r</text>
<path d="M248.30 61.00H255.50" stroke="#a8a8a8" stroke-width="1.3" fill="none"/>
<path d="M248.30 59.80H255.50M248.30 62.20H255.50" stroke="#444" stroke-width="1.0" fill="none"/>
<text x="258.80" y="64.90" font-size="10.9" textLength="23.82" lengthAdjust="spacingAndGlyphs">8.30</text>
<text x="283.12" y="64.90" font-size="11.4" textLength="21.3" lengthAdjust="spacingAndGlyphs">mm</text>
<line x1="209.2" y1="77.2" x2="232.5" y2="77.2" stroke="#ff4700" stroke-width="1.5"/>
<text x="241.00" y="81.00" font-size="11.5" font-style="italic">r</text>
<path d="M248.30 77.10H255.50" stroke="#a8a8a8" stroke-width="1.3" fill="none"/>
<path d="M248.30 75.90H255.50M248.30 78.30H255.50" stroke="#444" stroke-width="1.0" fill="none"/>
<text x="258.80" y="81.00" font-size="10.9" textLength="30.50" lengthAdjust="spacingAndGlyphs">10.14</text>
<text x="289.80" y="81.00" font-size="11.4" textLength="21.3" lengthAdjust="spacingAndGlyphs">mm</text>
<clipPath id="clipb"><rect x="404.23" y="30.55" width="280.07" height="204.95"/></clipPath>
<g clip-path="url(#clipb)" fill="none" stroke-width="1.5" stroke-linejoin="round" stroke-linecap="square">
<polyline stroke="#000080" points="416.3,215.5 417.4,214.3 418.5,212.5 419.6,209.9 420.7,203.7 421.8,200.9 422.6,202.1 423.5,202.5 424.1,204.9 424.7,207.1 425.8,205.4 426.9,202.0 427.6,199.7 428.3,199.0 429.3,198.4 430.3,198.0 431.2,196.9 432.2,197.1 433.1,196.3 434.0,194.3 434.8,193.5 435.6,192.9 436.5,191.3 437.4,190.4 438.2,189.0 439.0,189.3 439.9,187.3 440.8,186.5 441.6,185.1 442.7,187.8 443.8,189.6 444.4,190.6 445.0,191.8 445.8,187.3 446.6,183.4 447.4,181.2 448.5,187.5 449.5,191.3 450.6,189.2 451.6,185.5 452.4,185.0 453.1,184.3 453.9,182.2 454.6,179.5 455.2,178.3 455.8,176.8 456.9,180.5 457.9,189.5 458.5,193.3 459.1,196.3 460.0,200.0 460.8,201.3 461.5,204.5 462.5,205.1 463.5,207.9 464.5,209.1 465.5,211.3 466.5,210.1 467.5,212.1 468.5,211.0 469.5,210.7 470.5,209.8 471.5,208.3 472.5,207.2 473.5,206.1 474.2,204.3 475.0,203.0 475.8,202.0 476.5,200.0 477.3,198.5 478.4,197.5 479.5,196.3 480.5,194.4 481.6,194.1 482.6,192.5 483.4,192.6 484.1,191.0 484.9,192.8 485.6,194.0 486.4,197.6 487.1,201.5 488.2,203.5 489.3,206.8 490.1,205.8 490.8,204.5 491.6,203.0 492.7,204.0 493.8,205.3 494.6,205.3 495.3,207.4 496.1,209.1 497.2,210.7 498.3,213.6 499.1,212.1 499.8,211.7 500.6,210.6 501.6,210.5 502.6,211.4 503.6,212.1 504.4,211.2 505.1,209.1 506.2,211.2 507.4,214.3 508.5,212.7 509.6,211.3 510.6,209.6 511.6,206.9 512.6,205.3 513.8,204.9 514.9,206.1 515.0,208.0 515.8,209.6 516.5,211.1 517.2,210.4 518.0,208.8 518.8,208.6 519.5,210.3 520.2,208.2 521.0,206.5 521.8,205.1 522.5,204.3 523.2,206.0 524.0,206.5 524.8,204.3 525.5,201.3 526.3,200.0 527.0,197.8 527.8,196.0 528.5,193.8 529.3,193.3 530.1,191.5 530.8,190.7 531.6,189.5 532.4,190.8 533.1,192.6 533.9,195.2 534.6,198.0 535.4,196.1 536.1,195.0 537.2,189.6 538.3,186.0 539.0,184.9 539.8,183.0 540.6,184.7 541.4,185.0 542.1,187.4 542.9,190.0 543.6,189.2 544.4,188.8 545.1,188.0 545.9,186.0 546.6,181.2 547.4,176.0 548.4,169.5 549.0,168.0 549.6,166.3 550.3,169.1 551.0,171.0 551.8,170.0 552.6,170.0 553.2,172.0 553.8,175.0 554.8,182.0 555.5,183.3 556.3,184.6 557.0,182.2 557.8,181.0 558.5,181.5 559.3,182.0 560.0,179.2 560.8,176.3 561.5,174.4 562.3,172.0 563.0,171.5 563.8,170.5 564.9,168.5 565.5,171.3 566.1,175.6 566.9,175.1 567.6,174.8 568.2,171.5 568.8,168.0 569.8,164.0 570.9,166.0 571.5,171.6 572.1,176.3 572.9,179.4 573.6,181.6 574.4,184.4 575.1,187.6 575.7,190.1 576.3,193.0 577.2,189.2 578.1,186.8 578.9,185.0 579.6,183.8 580.4,180.0 581.1,177.1 581.9,169.8 582.6,164.0 583.2,160.7 583.8,157.8 584.8,152.6 585.9,149.5 586.5,151.9 587.1,153.3 587.9,157.4 588.6,160.0 589.5,165.9 590.5,171.5 591.5,170.0 592.4,169.0 593.2,168.2 593.9,165.7 594.6,163.0 595.2,162.7 595.8,161.6 596.7,155.8 597.6,149.5 598.4,145.9 599.1,142.0 599.9,141.5 600.6,141.3 601.4,143.0 602.1,142.0 602.9,141.3 603.6,145.0 604.4,146.5 605.2,150.5 606.0,153.6 606.8,150.4 607.5,148.3 608.2,146.5 609.0,144.0 609.8,146.0 610.5,149.0 611.2,146.8 612.0,144.5 612.7,137.5 613.5,128.0 614.3,118.6 615.1,114.0 615.9,113.3 616.6,113.3 617.2,115.3 617.8,117.1 618.8,130.0 619.2,137.0 620.3,147.6 621.4,154.3 622.0,154.3 622.6,155.0 623.2,151.1 623.8,147.6 624.8,134.0 625.3,112.6 626.4,97.5 627.1,90.0 627.8,80.2 628.5,70.0 629.2,60.3 630.0,50.0 630.8,42.0 631.5,36.0 632.1,32.0 632.7,28.0 633.4,14.0 634.0,0.0"/>
<polyline stroke="#0028ff" points="416.3,189.6 417.4,190.5 418.5,191.3 419.3,193.1 420.1,193.5 421.0,194.0 421.8,193.0 422.6,193.9 423.5,195.0 424.2,195.1 425.0,196.0 425.9,196.5 426.9,196.9 427.8,198.9 428.6,198.6 429.5,198.8 430.3,196.3 431.4,196.9 432.5,197.5 433.4,198.0 434.2,199.2 435.0,199.4 435.9,200.9 436.6,201.5 437.3,203.0 437.9,203.8 438.5,204.0 439.2,204.8 440.0,206.0 441.0,207.3 441.9,205.9 442.7,204.8 443.5,204.2 444.2,202.0 445.0,202.0 446.1,201.1 447.2,201.4 448.0,201.2 448.7,200.9 449.5,201.0 450.6,201.4 451.6,202.0 452.8,203.4 453.9,204.6 454.9,205.4 456.0,205.5 456.8,206.9 457.6,207.3 458.4,206.6 459.2,205.8 460.0,204.5 461.0,206.1 462.0,208.1 463.0,209.1 464.0,208.8 465.0,207.8 466.0,207.6 467.0,208.0 468.0,208.7 469.0,209.8 470.0,209.0 471.0,208.7 472.0,207.6 473.0,206.7 474.0,204.6 475.0,204.5 476.0,204.9 477.0,204.5 478.0,206.1 479.0,205.3 480.1,204.1 481.1,203.8 482.1,205.4 483.1,207.4 484.1,208.3 485.2,209.9 486.3,212.8 487.1,211.0 487.8,211.1 488.6,209.1 489.4,207.1 490.1,206.1 491.1,207.6 492.1,207.5 493.1,208.3 494.1,209.2 495.1,210.0 496.1,212.1 497.1,211.7 498.1,213.1 499.1,213.6 500.1,212.3 501.1,209.6 502.1,208.3 503.1,206.8 504.1,206.2 505.1,204.5 506.1,205.0 507.1,206.1 508.1,207.6 509.1,206.8 510.1,207.1 511.1,206.8 512.1,207.5 513.1,207.6 514.1,209.1 515.0,212.6 515.8,214.5 516.5,214.1 517.6,213.6 518.8,214.1 519.9,213.9 521.0,212.6 522.1,211.1 523.3,209.5 524.4,208.0 525.5,206.5 526.6,205.5 527.8,205.8 528.9,205.9 530.0,206.5 531.1,207.7 532.3,209.5 533.0,210.3 533.8,212.6 534.6,214.5 535.3,214.6 536.1,216.3 537.2,216.1 538.3,217.8 539.1,218.3 539.8,216.2 540.6,216.3 541.7,215.9 542.8,214.1 543.6,212.3 544.3,213.0 545.1,211.1 546.2,210.8 547.3,211.8 548.1,210.9 548.8,211.1 549.6,210.3 550.7,210.2 551.8,211.8 552.6,213.1 553.3,214.5 554.1,214.8 555.2,213.2 556.4,211.8 557.5,210.1 558.6,208.8 559.8,209.2 560.9,209.5 562.0,209.3 563.1,208.8 564.2,210.1 565.4,211.1 566.5,208.8 567.6,206.5 568.8,205.8 569.9,205.0 571.0,204.3 572.1,204.3 573.1,204.1 574.0,203.6 575.0,202.8 575.2,202.8 576.0,203.0 576.8,203.3 577.9,205.3 579.0,205.5 580.1,207.6 581.3,208.5 582.4,209.4 583.5,209.3 584.2,208.6 585.0,208.5 586.1,207.3 587.3,207.0 588.4,206.1 589.5,205.5 590.6,204.1 591.8,203.3 592.6,203.3 593.3,203.9 594.1,202.5 595.2,204.1 596.3,204.0 597.1,203.9 597.8,201.8 598.6,201.8 599.7,201.1 600.8,199.5 601.5,199.0 602.3,197.3 603.0,197.3 603.8,195.8 604.5,196.0 605.5,190.0 606.2,185.0 607.0,179.5 607.8,179.8 608.5,178.8 609.2,180.6 610.0,181.8 610.8,181.1 611.5,178.8 612.2,178.8 613.0,176.5 613.8,179.2 614.5,181.0 615.6,179.2 616.8,178.0 617.6,177.8 618.3,175.6 619.1,175.0 619.9,173.2 620.6,170.5 621.5,164.0 622.6,157.3 623.4,157.4 624.1,155.8 624.9,156.5 625.6,156.6 626.4,154.8 627.1,153.6 627.9,150.4 628.6,147.6 629.4,146.1 630.1,145.3 630.9,139.4 631.6,132.5 632.4,131.8 633.1,131.0 633.9,130.4 634.6,128.5 635.2,127.4 635.8,125.0 636.5,126.9 637.2,129.0 637.9,127.9 638.5,127.5 639.5,126.0 640.6,121.6 641.8,118.8 642.9,116.3 643.7,113.9 644.4,110.9 645.2,108.8 646.3,107.4 647.4,105.0 648.2,104.1 648.9,100.8 649.7,100.5 650.9,100.1 652.0,100.5 653.1,103.1 654.2,106.5 655.1,108.5 656.0,109.5 656.8,107.2 657.5,105.8 658.2,105.2 659.0,104.3 659.8,100.1 660.5,96.8 661.5,96.3 662.4,95.3 663.4,94.3 664.4,93.8 665.1,94.3 665.9,95.3 666.6,98.9 667.4,102.0 668.1,106.0 668.9,111.0 669.6,116.0 670.4,120.0 671.1,124.9 671.9,129.5"/>
<polyline stroke="#00d4ff" points="416.2,194.7 417.1,194.4 418.0,194.0 418.9,195.2 419.8,195.7 420.7,196.9 421.6,196.6 422.5,197.0 423.3,196.1 424.2,195.5 425.0,195.0 426.0,196.7 427.0,197.0 428.1,198.0 429.2,199.2 430.1,195.8 431.0,192.5 432.0,193.4 433.0,194.0 433.9,195.7 434.8,196.3 435.9,195.2 437.0,195.7 438.1,195.6 439.0,196.5 439.9,196.9 440.9,198.2 442.0,197.5 443.1,196.8 444.1,196.3 445.2,195.9 446.2,196.1 447.2,195.9 448.3,195.8 449.1,195.1 450.0,197.0 451.1,197.6 452.3,198.9 453.4,199.2 454.3,199.0 455.1,197.1 456.0,197.0 457.0,198.0 458.0,197.4 459.0,198.3 460.0,198.5 461.1,200.1 462.2,199.6 463.4,198.7 464.5,200.0 465.6,199.6 466.8,200.0 467.9,200.6 469.0,199.3 470.0,199.5 471.0,200.2 472.0,200.5 473.0,201.3 474.0,201.7 475.0,201.5 476.1,201.1 477.2,201.1 478.4,199.1 479.5,200.0 480.4,200.1 481.3,200.4 482.3,200.9 483.2,201.5 484.1,201.5 485.2,202.6 486.4,202.8 487.5,204.0 488.6,204.5 489.7,204.9 490.9,204.7 492.0,204.6 493.1,204.5 494.2,205.4 495.4,206.2 496.5,206.6 497.6,206.8 498.7,206.4 499.9,205.6 501.0,206.1 502.1,205.3 503.2,205.1 504.4,204.4 505.5,203.7 506.6,203.0 507.7,202.4 508.9,203.0 510.0,201.9 511.1,200.8 512.1,201.7 513.0,202.6 514.0,202.9 515.0,203.5 516.0,204.0 517.0,202.4 518.0,202.0 519.1,199.0 520.3,196.8 521.4,197.6 522.5,198.3 523.6,200.5 524.8,202.8 525.9,204.9 527.0,205.8 528.0,205.9 529.0,206.9 530.0,207.3 531.0,208.9 532.0,209.0 533.0,209.5 534.0,211.5 535.1,211.0 536.1,211.8 537.1,211.6 538.1,212.3 539.1,212.6 540.1,213.4 541.1,213.1 542.1,211.8 543.1,211.9 544.1,212.4 545.1,212.6 546.1,213.5 547.1,212.9 548.1,213.3 549.1,213.8 550.1,213.7 551.1,214.8 552.1,214.3 553.1,214.2 554.1,212.6 555.2,213.7 556.4,214.8 557.5,215.4 558.6,217.1 559.6,217.6 560.6,217.5 561.6,217.8 562.6,218.9 563.6,218.6 564.6,219.3 565.6,221.0 566.6,221.9 567.6,222.3 568.8,221.8 569.9,220.1 571.0,219.0 572.1,219.3 573.1,218.2 574.0,218.6 575.0,217.8 575.8,217.8 576.7,218.6 577.5,219.8 578.6,220.0 579.8,220.6 580.9,220.3 582.0,219.8 583.1,219.2 584.3,219.1 585.4,218.8 586.5,217.6 587.6,217.1 588.8,216.0 589.6,216.6 590.3,216.8 591.1,217.6 592.2,217.8 593.3,219.1 594.3,219.2 595.3,219.5 596.3,218.3 597.1,218.8 597.8,219.3 598.6,219.8 599.7,220.0 600.8,221.3 601.6,219.9 602.3,220.7 603.1,219.8 604.1,218.5 605.1,218.0 606.1,217.6 607.1,217.4 608.1,217.7 609.1,216.8 610.2,216.1 611.4,216.0 612.5,215.6 613.6,214.5 614.8,213.6 615.9,210.8 617.0,209.3 618.1,207.8 619.2,205.7 620.4,206.3 621.1,206.7 621.9,207.8 622.6,209.7 623.4,210.8 624.1,211.2 624.9,212.3 626.0,212.5 627.1,213.0 628.1,212.9 629.0,214.6 630.0,213.8 630.9,211.8 631.6,211.5 632.4,210.3 633.1,209.7 633.9,211.0 634.6,209.5 635.4,208.0 636.1,205.4 636.9,204.3 637.6,203.7 638.4,201.3 639.2,200.0 640.0,198.3 640.7,198.9 641.4,199.0 642.1,198.7 642.9,197.0 643.9,195.5 644.6,193.0 645.4,190.8 646.5,190.1 647.6,190.0 648.8,189.3 649.9,188.6 650.9,187.6 651.9,187.7 652.9,186.3 653.7,187.8 654.4,188.0 655.2,189.3 656.3,187.2 657.4,184.1 658.2,182.4 658.9,181.1 659.7,180.3 660.9,181.6 662.0,181.8 663.0,183.3 663.9,186.3 664.9,188.6 665.7,186.8 666.4,183.5 667.2,182.6 668.3,181.6 669.4,180.3 670.2,180.1 670.9,180.6 671.7,179.5"/>
<polyline stroke="#7dff7a" points="416.2,183.4 417.0,184.7 417.7,185.2 418.5,185.6 419.6,185.0 420.7,186.2 421.6,186.8 422.6,185.5 423.6,185.5 424.5,185.8 425.4,186.7 426.3,186.8 427.3,187.2 428.2,188.2 429.2,188.5 430.1,188.1 431.0,188.5 431.9,187.5 432.8,186.5 433.7,187.3 434.6,187.2 435.6,185.9 436.5,186.2 437.5,185.8 438.6,185.3 439.6,185.0 440.3,184.4 441.0,185.6 441.8,186.9 442.6,187.3 443.6,187.0 444.6,186.2 445.6,186.5 446.6,187.1 447.6,188.0 448.6,188.0 449.6,188.3 450.6,189.1 451.6,189.5 452.6,189.9 453.6,188.8 454.6,188.8 455.6,188.7 456.6,189.2 457.6,189.5 458.4,189.3 459.2,190.0 460.0,189.5 461.1,190.2 462.2,190.6 463.4,190.1 464.5,191.0 465.6,191.8 466.8,191.5 467.9,191.6 469.0,191.8 470.1,192.2 471.2,192.1 472.4,191.6 473.5,191.0 474.4,190.1 475.4,188.6 476.4,188.0 477.3,187.3 478.4,188.2 479.5,188.8 480.5,191.1 481.6,191.8 482.6,193.3 483.5,194.0 484.5,194.7 485.4,195.1 486.3,196.3 487.2,196.0 488.2,197.1 489.2,196.9 490.1,197.8 491.2,197.4 492.4,198.7 493.5,199.2 494.6,199.3 495.7,198.3 496.9,197.4 498.0,196.2 499.1,194.8 500.2,193.1 501.4,192.8 502.5,193.1 503.6,191.8 504.6,193.1 505.6,192.8 506.6,194.8 507.6,195.1 508.6,194.6 509.6,195.5 510.6,196.4 511.6,196.6 512.6,197.8 513.4,196.9 514.2,196.4 515.0,196.0 516.1,196.0 517.3,196.8 518.4,198.2 519.5,199.0 520.5,199.7 521.5,200.5 522.5,201.3 523.5,201.0 524.5,202.0 525.5,202.0 526.5,203.2 527.5,202.6 528.5,203.5 529.5,204.1 530.5,204.4 531.5,204.3 532.5,204.3 533.5,204.1 534.5,204.3 535.5,204.1 536.6,203.6 537.6,203.5 538.6,203.5 539.6,203.5 540.6,204.3 541.6,204.5 542.6,203.6 543.6,203.5 544.6,203.2 545.6,203.3 546.6,202.8 547.6,203.5 548.6,204.7 549.6,205.0 550.6,205.1 551.6,205.8 552.6,206.5 553.6,207.2 554.6,207.9 555.6,207.3 556.6,208.9 557.6,208.8 558.6,208.8 559.6,209.0 560.6,210.1 561.6,209.5 562.6,210.4 563.6,210.3 564.6,212.6 565.6,213.3 566.6,214.0 567.6,214.8 568.6,214.7 569.6,213.0 570.6,214.1 571.7,214.0 572.8,213.1 573.9,213.6 575.0,213.3 576.0,213.0 577.1,213.4 578.3,213.8 579.4,214.9 580.5,216.0 581.5,217.1 582.5,216.9 583.5,216.8 584.5,217.6 585.5,217.3 586.5,217.6 587.6,216.2 588.8,216.0 589.6,216.9 590.3,217.2 591.1,219.1 592.2,219.8 593.3,220.6 594.1,220.0 594.8,219.3 595.6,219.1 596.7,218.1 597.8,218.3 598.6,219.0 599.3,219.0 600.1,219.8 601.2,221.1 602.3,222.1 603.1,221.7 603.8,220.8 604.6,220.6 605.7,221.0 606.8,221.3 607.6,222.2 608.3,222.2 609.1,223.6 610.2,224.0 611.4,225.1 612.5,224.7 613.6,223.6 614.8,223.1 615.9,222.1 617.0,221.1 618.1,219.8 619.1,219.3 620.1,218.1 621.1,217.6 622.1,217.2 623.1,217.9 624.1,218.3 625.1,218.1 626.1,217.5 627.1,217.6 628.1,217.6 629.0,218.2 630.0,218.3 630.8,218.4 631.6,217.8 632.6,217.9 633.6,216.8 634.6,217.0 635.6,216.4 636.6,215.5 637.6,215.5 638.7,216.2 639.9,217.1 641.0,216.5 642.0,217.0 643.1,217.7 644.2,217.5 645.2,217.8 646.2,218.3 647.2,218.7 648.2,219.3 649.2,219.6 650.2,219.9 651.2,220.1 652.2,220.3 653.2,220.1 654.2,219.3 655.2,218.8 656.2,217.0 657.2,217.8 658.2,216.3 659.2,216.6 660.2,216.3 661.3,215.0 662.4,214.8 663.2,215.6 663.9,215.9 664.7,216.3 665.9,217.4 667.0,218.6 668.1,218.2 669.2,217.0 670.4,215.3 671.5,214.0"/>
<polyline stroke="#ffe600" points="416.2,187.9 417.2,188.5 418.3,188.4 419.3,188.8 420.3,189.2 421.3,190.1 422.3,190.5 423.2,191.2 424.2,191.4 425.2,191.8 426.1,191.8 427.1,192.0 428.0,192.5 428.8,192.4 429.5,192.5 430.3,193.5 431.4,193.9 432.5,194.7 433.5,194.4 434.4,194.6 435.4,194.1 436.3,194.0 437.3,192.6 438.2,193.0 439.1,194.2 440.1,193.6 441.0,194.1 441.9,193.8 442.9,194.8 443.8,194.7 444.7,195.6 445.6,195.6 446.6,195.7 447.6,193.6 448.6,193.3 449.6,192.9 450.6,193.2 451.6,192.6 452.6,192.5 453.6,193.8 454.6,193.5 455.6,194.1 456.6,194.1 457.6,194.8 458.4,194.5 459.2,194.3 460.0,194.0 461.1,193.7 462.1,193.7 463.2,193.3 464.3,193.4 465.4,193.5 466.4,192.9 467.5,193.3 468.6,193.0 469.6,192.2 470.7,192.2 471.8,193.2 472.9,192.0 473.9,192.2 475.0,191.8 476.1,192.5 477.2,192.2 478.4,192.3 479.5,192.5 480.4,193.4 481.3,193.7 482.3,193.1 483.2,194.8 484.1,194.8 485.2,195.1 486.4,196.1 487.5,196.0 488.6,197.0 489.6,196.0 490.6,195.0 491.6,194.8 492.7,195.9 493.9,195.6 495.0,197.5 496.1,198.5 497.2,199.6 498.4,199.8 499.5,199.3 500.6,200.0 501.7,200.0 502.9,200.1 504.0,198.3 505.1,198.5 506.2,197.7 507.4,197.9 508.5,197.6 509.6,197.0 510.7,197.8 511.9,197.7 513.0,198.3 514.1,197.8 515.0,199.0 516.0,198.2 517.0,198.4 518.0,198.3 519.0,198.5 520.0,197.9 521.0,197.5 522.0,198.1 523.0,199.0 524.0,199.0 525.0,198.8 526.0,199.6 527.0,199.8 528.0,200.3 529.0,199.6 530.0,200.5 531.0,200.4 532.0,201.7 533.0,202.8 534.0,202.8 535.1,202.9 536.1,204.3 537.1,204.2 538.1,205.2 539.1,205.8 540.1,205.2 541.1,206.5 542.1,205.0 543.1,205.9 544.1,206.5 545.1,206.5 546.1,207.1 547.1,206.2 548.1,207.3 549.1,206.9 550.1,207.9 551.1,208.0 552.1,207.3 553.1,207.7 554.1,207.3 555.1,207.4 556.1,207.3 557.1,208.0 558.1,206.7 559.1,209.1 560.1,208.8 561.1,208.0 562.1,207.5 563.1,208.0 564.1,208.6 565.1,208.7 566.1,209.5 567.1,208.4 568.1,209.6 569.1,208.8 570.1,207.8 571.1,208.1 572.1,207.3 573.1,208.6 574.0,208.6 575.0,209.5 575.2,210.3 576.0,210.8 577.0,210.9 578.0,211.7 579.0,211.5 580.0,212.1 581.0,213.1 582.0,213.8 583.0,213.7 584.0,214.2 585.0,214.5 586.0,214.0 587.0,214.2 588.0,213.8 589.0,214.4 590.1,214.1 591.1,214.5 592.1,215.6 593.1,216.9 594.1,216.8 595.1,218.0 596.1,216.9 597.1,217.6 598.1,217.7 599.1,217.8 600.1,217.6 601.1,217.9 602.1,217.7 603.1,217.6 604.1,218.4 605.1,217.1 606.1,217.6 607.1,217.0 608.1,217.5 609.1,218.3 610.1,218.4 611.1,218.7 612.1,219.1 613.1,220.1 614.1,219.1 615.1,219.8 616.1,220.9 617.1,220.2 618.1,221.3 619.1,222.2 620.1,222.2 621.1,222.8 622.1,224.3 623.1,223.2 624.1,224.3 625.1,224.3 626.1,225.6 627.1,225.8 628.1,226.1 629.0,226.2 630.0,226.6 630.1,226.1 631.2,225.8 632.4,227.3 633.5,227.3 634.6,227.6 635.7,228.5 636.9,227.6 638.0,228.3 639.1,228.3 640.0,228.1 641.0,229.6 642.0,229.4 642.9,229.8 643.9,229.4 644.8,229.8 645.8,228.9 646.7,229.1 647.8,229.4 649.0,228.3 650.1,228.5 651.2,228.3 652.3,227.7 653.5,228.1 654.6,227.1 655.7,227.6 656.6,228.2 657.5,228.2 658.5,229.1 659.4,229.1 660.4,228.9 661.4,227.3 662.4,227.6 663.4,227.9 664.3,228.0 665.2,227.4 666.2,227.6 667.2,227.5 668.2,227.3 669.2,226.8 670.2,227.6 671.2,228.1 672.2,227.6"/>
<polyline stroke="#ff4700" points="416.2,198.0 417.0,197.1 417.9,196.9 419.0,195.7 420.1,195.8 421.2,195.2 422.3,195.6 423.1,195.7 423.9,196.6 424.7,196.9 425.6,196.5 426.5,196.5 427.6,196.9 428.6,197.5 429.5,199.3 430.3,199.7 431.4,200.7 432.5,200.9 433.3,201.6 434.0,200.6 434.8,201.4 435.7,202.3 436.7,201.7 437.6,202.0 438.8,203.8 439.9,203.7 440.8,203.5 441.6,202.5 442.7,201.7 443.7,201.2 444.8,200.5 445.5,200.8 446.1,200.9 447.0,200.6 447.8,200.5 448.7,201.0 449.7,199.4 450.6,200.9 451.7,200.7 452.8,200.7 453.9,201.0 454.9,201.6 455.9,200.4 456.9,200.5 457.9,201.2 459.0,201.3 460.0,201.5 461.1,201.3 462.2,199.6 463.4,198.1 464.5,197.0 465.6,197.2 466.8,197.0 467.9,198.0 469.0,198.5 470.1,197.7 471.2,198.3 472.4,197.9 473.5,197.0 474.5,197.5 475.5,199.1 476.5,200.0 477.5,201.6 478.5,202.7 479.5,204.5 480.5,203.5 481.6,202.9 482.6,201.5 483.6,201.6 484.6,200.5 485.6,200.0 486.7,199.7 487.9,201.0 489.0,201.6 490.1,202.3 491.2,202.5 492.4,202.3 493.5,202.5 494.6,202.3 495.7,202.2 496.9,201.4 498.0,202.2 499.1,202.3 500.2,202.7 501.4,203.3 502.5,203.6 503.6,203.8 504.7,203.8 505.9,204.0 507.0,203.7 508.1,203.0 509.2,202.9 510.4,202.4 511.5,202.7 512.6,202.3 513.4,202.6 514.2,203.4 515.0,202.8 516.0,202.9 517.0,202.9 518.0,203.5 519.0,202.8 520.0,204.1 521.0,204.3 522.0,203.1 523.0,203.6 524.0,203.5 525.0,203.8 526.0,202.8 527.0,202.8 528.0,202.6 529.0,202.3 530.0,202.0 531.0,200.8 532.0,200.7 533.0,201.3 534.0,201.5 535.1,202.0 536.1,202.8 537.1,204.3 538.1,204.7 539.1,205.0 540.1,206.1 541.1,206.4 542.1,206.5 543.1,206.8 544.1,206.4 545.1,207.3 546.1,207.9 547.1,208.1 548.1,208.8 549.1,209.1 550.1,208.1 551.1,206.5 552.2,205.0 553.3,204.3 554.1,204.5 554.8,204.8 555.6,205.0 556.8,203.3 557.9,203.5 559.0,202.6 560.1,202.0 561.2,203.8 562.4,205.0 563.5,205.9 564.6,206.5 565.6,206.7 566.6,205.8 567.6,205.0 568.8,205.5 569.9,206.5 570.9,206.7 571.9,207.4 572.9,208.0 574.0,208.7 575.0,209.5 575.2,209.5 576.0,210.0 577.0,210.3 578.0,209.4 579.0,209.3 580.1,208.6 581.3,207.8 582.4,207.4 583.5,205.5 584.6,205.2 585.8,206.3 586.9,207.5 588.0,208.5 589.0,207.6 590.1,209.1 591.1,210.0 592.1,210.1 593.1,210.6 594.1,210.8 595.2,211.7 596.3,211.5 597.1,212.0 597.8,213.6 598.6,213.8 599.6,213.6 600.6,214.6 601.6,214.5 602.6,213.8 603.6,214.2 604.6,213.0 605.6,212.7 606.6,213.9 607.6,213.8 608.6,213.5 609.6,215.0 610.6,214.5 611.6,214.9 612.6,215.1 613.6,213.8 614.6,213.6 615.6,215.0 616.6,214.5 617.6,214.4 618.6,213.9 619.6,213.8 620.6,214.4 621.6,214.7 622.6,214.5 623.6,214.2 624.6,213.7 625.6,213.8 626.6,214.5 627.6,214.4 628.6,215.3 629.3,215.0 630.0,216.0 630.8,217.5 631.6,218.6 632.6,219.1 633.6,219.4 634.6,219.3 635.6,219.7 636.6,220.1 637.6,220.1 638.6,218.9 639.6,219.1 640.6,218.6 641.6,219.2 642.6,219.1 643.6,220.1 644.6,220.3 645.6,220.7 646.6,220.1 647.6,220.4 648.7,221.1 649.7,220.8 650.7,220.7 651.7,221.2 652.7,221.6 653.7,222.0 654.7,221.0 655.7,221.6 656.7,221.4 657.7,221.2 658.7,220.8 659.7,221.7 660.7,220.6 661.7,220.1 662.7,220.1 663.7,220.2 664.7,220.1 665.7,219.9 666.7,220.9 667.7,220.8 668.9,221.5 670.0,222.3 671.1,221.9 672.2,222.3"/>
</g>
<rect x="404.23" y="30.55" width="280.07" height="204.95" fill="none" stroke="#5a5a5a" stroke-width="1.25"/>
<line x1="401.63" y1="235.50" x2="404.23" y2="235.50" stroke="#5a5a5a" stroke-width="1.1"/>
<text x="398.00" y="239.90" font-size="10.5" text-anchor="end" textLength="24.07" lengthAdjust="spacingAndGlyphs">0.00</text>
<line x1="401.63" y1="209.88" x2="404.23" y2="209.88" stroke="#5a5a5a" stroke-width="1.1"/>
<text x="398.00" y="214.28" font-size="10.5" text-anchor="end" textLength="24.07" lengthAdjust="spacingAndGlyphs">0.05</text>
<line x1="401.63" y1="184.26" x2="404.23" y2="184.26" stroke="#5a5a5a" stroke-width="1.1"/>
<text x="398.00" y="188.66" font-size="10.5" text-anchor="end" textLength="24.07" lengthAdjust="spacingAndGlyphs">0.10</text>
<line x1="401.63" y1="158.64" x2="404.23" y2="158.64" stroke="#5a5a5a" stroke-width="1.1"/>
<text x="398.00" y="163.04" font-size="10.5" text-anchor="end" textLength="24.07" lengthAdjust="spacingAndGlyphs">0.15</text>
<line x1="401.63" y1="133.03" x2="404.23" y2="133.03" stroke="#5a5a5a" stroke-width="1.1"/>
<text x="398.00" y="137.43" font-size="10.5" text-anchor="end" textLength="24.07" lengthAdjust="spacingAndGlyphs">0.20</text>
<line x1="401.63" y1="107.41" x2="404.23" y2="107.41" stroke="#5a5a5a" stroke-width="1.1"/>
<text x="398.00" y="111.81" font-size="10.5" text-anchor="end" textLength="24.07" lengthAdjust="spacingAndGlyphs">0.25</text>
<line x1="401.63" y1="81.79" x2="404.23" y2="81.79" stroke="#5a5a5a" stroke-width="1.1"/>
<text x="398.00" y="86.19" font-size="10.5" text-anchor="end" textLength="24.07" lengthAdjust="spacingAndGlyphs">0.30</text>
<line x1="401.63" y1="56.17" x2="404.23" y2="56.17" stroke="#5a5a5a" stroke-width="1.1"/>
<text x="398.00" y="60.57" font-size="10.5" text-anchor="end" textLength="24.07" lengthAdjust="spacingAndGlyphs">0.35</text>
<line x1="401.63" y1="30.55" x2="404.23" y2="30.55" stroke="#5a5a5a" stroke-width="1.1"/>
<text x="398.00" y="34.95" font-size="10.5" text-anchor="end" textLength="24.07" lengthAdjust="spacingAndGlyphs">0.40</text>
<line x1="442.47" y1="235.50" x2="442.47" y2="238.20" stroke="#5a5a5a" stroke-width="1.1"/>
<text x="442.47" y="249.30" font-size="10.5" text-anchor="middle" textLength="13.26" lengthAdjust="spacingAndGlyphs">12</text>
<line x1="489.45" y1="235.50" x2="489.45" y2="238.20" stroke="#5a5a5a" stroke-width="1.1"/>
<text x="489.45" y="249.30" font-size="10.5" text-anchor="middle" textLength="13.26" lengthAdjust="spacingAndGlyphs">14</text>
<line x1="536.43" y1="235.50" x2="536.43" y2="238.20" stroke="#5a5a5a" stroke-width="1.1"/>
<text x="536.43" y="249.30" font-size="10.5" text-anchor="middle" textLength="13.26" lengthAdjust="spacingAndGlyphs">16</text>
<line x1="583.41" y1="235.50" x2="583.41" y2="238.20" stroke="#5a5a5a" stroke-width="1.1"/>
<text x="583.41" y="249.30" font-size="10.5" text-anchor="middle" textLength="13.26" lengthAdjust="spacingAndGlyphs">18</text>
<line x1="630.39" y1="235.50" x2="630.39" y2="238.20" stroke="#5a5a5a" stroke-width="1.1"/>
<text x="630.39" y="249.30" font-size="10.5" text-anchor="middle" textLength="13.26" lengthAdjust="spacingAndGlyphs">20</text>
<line x1="677.37" y1="235.50" x2="677.37" y2="238.20" stroke="#5a5a5a" stroke-width="1.1"/>
<text x="677.37" y="249.30" font-size="10.5" text-anchor="middle" textLength="13.26" lengthAdjust="spacingAndGlyphs">22</text>
<text x="526.90" y="262.90" font-size="11.2" font-style="italic">y</text>
<text x="532.70" y="262.90" font-size="11.2" textLength="29.9" lengthAdjust="spacingAndGlyphs">(mm)</text>
<text transform="translate(369.00,133.03) rotate(-90)" font-size="12" font-style="italic" text-anchor="middle">&#949;</text>
<text x="373.30" y="11.90" font-size="16" style="font-family:'Liberation Serif',serif;stroke:none">(b)</text>
<rect x="450.5" y="36.5" width="229.00" height="50.40" rx="2" ry="2" fill="#fff" stroke="#cccccc" stroke-opacity="0.8" stroke-width="1"/>
<line x1="454.5" y1="45.0" x2="477.8" y2="45.0" stroke="#000080" stroke-width="1.5"/>
<text x="486.10" y="48.80" font-size="11.5" font-style="italic">r</text>
<path d="M493.40 44.90H500.60" stroke="#a8a8a8" stroke-width="1.3" fill="none"/>
<path d="M493.40 43.70H500.60M493.40 46.10H500.60" stroke="#444" stroke-width="1.0" fill="none"/>
<text x="503.90" y="48.80" font-size="10.9" textLength="23.82" lengthAdjust="spacingAndGlyphs">0.92</text>
<text x="528.22" y="48.80" font-size="11.4" textLength="21.3" lengthAdjust="spacingAndGlyphs">mm</text>
<line x1="454.5" y1="61.0" x2="477.8" y2="61.0" stroke="#0028ff" stroke-width="1.5"/>
<text x="486.10" y="64.80" font-size="11.5" font-style="italic">r</text>
<path d="M493.40 60.90H500.60" stroke="#a8a8a8" stroke-width="1.3" fill="none"/>
<path d="M493.40 59.70H500.60M493.40 62.10H500.60" stroke="#444" stroke-width="1.0" fill="none"/>
<text x="503.90" y="64.80" font-size="10.9" textLength="23.82" lengthAdjust="spacingAndGlyphs">2.77</text>
<text x="528.22" y="64.80" font-size="11.4" textLength="21.3" lengthAdjust="spacingAndGlyphs">mm</text>
<line x1="454.5" y1="77.2" x2="477.8" y2="77.2" stroke="#00d4ff" stroke-width="1.5"/>
<text x="486.10" y="81.00" font-size="11.5" font-style="italic">r</text>
<path d="M493.40 77.10H500.60" stroke="#a8a8a8" stroke-width="1.3" fill="none"/>
<path d="M493.40 75.90H500.60M493.40 78.30H500.60" stroke="#444" stroke-width="1.0" fill="none"/>
<text x="503.90" y="81.00" font-size="10.9" textLength="23.82" lengthAdjust="spacingAndGlyphs">4.61</text>
<text x="528.22" y="81.00" font-size="11.4" textLength="21.3" lengthAdjust="spacingAndGlyphs">mm</text>
<line x1="572.0" y1="45.0" x2="594.9" y2="45.0" stroke="#7dff7a" stroke-width="1.5"/>
<text x="603.40" y="48.80" font-size="11.5" font-style="italic">r</text>
<path d="M610.70 44.90H617.90" stroke="#a8a8a8" stroke-width="1.3" fill="none"/>
<path d="M610.70 43.70H617.90M610.70 46.10H617.90" stroke="#444" stroke-width="1.0" fill="none"/>
<text x="621.20" y="48.80" font-size="10.9" textLength="23.82" lengthAdjust="spacingAndGlyphs">6.45</text>
<text x="645.52" y="48.80" font-size="11.4" textLength="21.3" lengthAdjust="spacingAndGlyphs">mm</text>
<line x1="572.0" y1="61.0" x2="594.9" y2="61.0" stroke="#ffe600" stroke-width="1.5"/>
<text x="603.40" y="64.80" font-size="11.5" font-style="italic">r</text>
<path d="M610.70 60.90H617.90" stroke="#a8a8a8" stroke-width="1.3" fill="none"/>
<path d="M610.70 59.70H617.90M610.70 62.10H617.90" stroke="#444" stroke-width="1.0" fill="none"/>
<text x="621.20" y="64.80" font-size="10.9" textLength="23.82" lengthAdjust="spacingAndGlyphs">8.30</text>
<text x="645.52" y="64.80" font-size="11.4" textLength="21.3" lengthAdjust="spacingAndGlyphs">mm</text>
<line x1="572.0" y1="77.2" x2="594.9" y2="77.2" stroke="#ff4700" stroke-width="1.5"/>
<text x="603.40" y="81.00" font-size="11.5" font-style="italic">r</text>
<path d="M610.70 77.10H617.90" stroke="#a8a8a8" stroke-width="1.3" fill="none"/>
<path d="M610.70 75.90H617.90M610.70 78.30H617.90" stroke="#444" stroke-width="1.0" fill="none"/>
<text x="621.20" y="81.00" font-size="10.9" textLength="30.50" lengthAdjust="spacingAndGlyphs">10.14</text>
<text x="652.20" y="81.00" font-size="11.4" textLength="21.3" lengthAdjust="spacingAndGlyphs">mm</text>
</svg>
</body></html>
